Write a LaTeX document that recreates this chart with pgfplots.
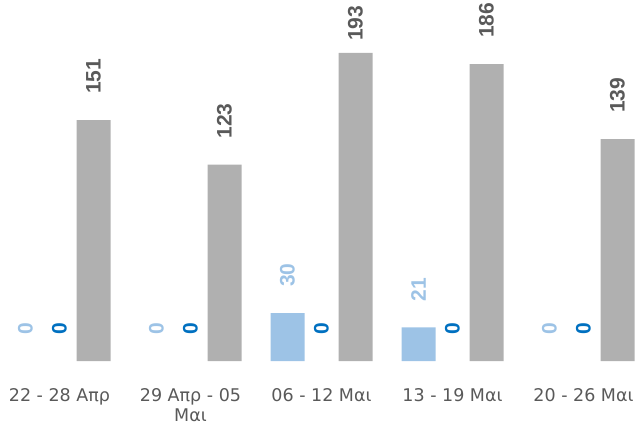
\documentclass[border=0pt]{standalone}
\usepackage{pgfplots}
\pgfplotsset{compat=1.18}
\usepackage{fontspec}
\setmainfont{DejaVu Sans}
\newfontfamily\valfont{Liberation Sans}
\definecolor{lblue}{HTML}{9DC3E6}
\definecolor{dblue}{HTML}{0070C0}
\definecolor{bgray}{HTML}{B0B0B0}
\definecolor{tgray}{HTML}{595959}
\begin{document}
\begin{tikzpicture}
\begin{axis}[
 x=131pt, y=1.596pt,
 xmin=-0.4542, xmax=4.4008, ymin=0, ymax=226.2,
 axis line style={draw=none},
 ytick=\empty,
 xtick={0,1,2,3,4},
 xticklabels={22 - 28 Απρ, {29 Απρ - 05\\Μαι}, 06 - 12 Μαι, 13 - 19 Μαι, 20 - 26 Μαι},
 xticklabel style={font=\fontsize{17.5}{20}\selectfont, text=tgray, align=center, anchor=north, yshift=-24pt},
 major tick length=0pt,
 ybar, bar width=34pt,
 /pgf/number format/assume math mode=true,
 nodes near coords,
 visualization depends on={\thisrow{sh} \as \sh},
 every node near coord/.append style={yshift=\sh pt, rotate=90, anchor=west, inner sep=0pt, font=\valfont\bfseries\fontsize{21}{21}\selectfont},
 clip=false,
]
% light blue, non-zero bars
\addplot[fill=lblue, draw=none, bar shift=-34pt, nodes near coords style={text=lblue}] table {
x y sh
2 30 26
3 21 26
};
% light blue, zero values (label only)
\addplot[fill=none, draw=none, bar shift=-34pt, nodes near coords style={text=lblue}] table {
x y sh
0 0 26
1 0 26
4 0 26
};
% dark blue, all zero (label only)
\addplot[fill=none, draw=none, bar shift=0pt, nodes near coords style={text=dblue}] table {
x y sh
0 0 26
1 0 26
2 0 26
3 0 26
4 0 26
};
\addplot[fill=bgray, draw=none, bar shift=34pt, nodes near coords style={text=tgray}] table {
x y sh
0 151 26
1 123 26
2 193 12
3 186 26
4 139 26
};
\end{axis}
\pgfresetboundingbox
\useasboundingbox (current axis.south west) ++(0,-66pt) rectangle (current axis.north east);
\end{tikzpicture}
\end{document}
